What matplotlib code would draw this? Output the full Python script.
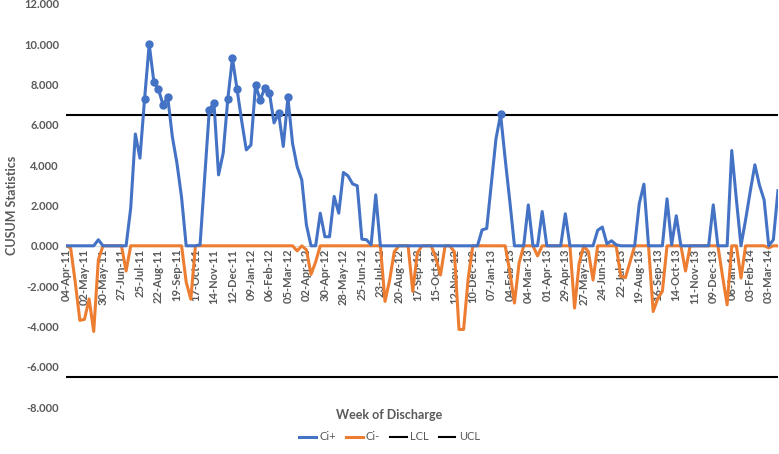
import numpy as np
import matplotlib.pyplot as plt

# weekly CUSUM values, week 0 = 04-Apr-11
ci_plus = [0, 0, 0, 0, 0, 0, 0, 0.3, 0, 0,
           0, 0, 0, 0, 1.87, 5.55, 4.35, 7.29, 10.0, 8.15,
           7.77, 6.99, 7.39, 5.42, 4.1, 2.4, 0, 0, 0, 0.05,
           3.4, 6.74, 7.1, 3.52, 4.6, 7.29, 9.3, 7.77, 6.2, 4.76,
           5.0, 7.98, 7.24, 7.82, 7.6, 6.1, 6.58, 4.93, 7.36, 5.09,
           3.93, 3.27, 1.04, 0, 0, 1.62, 0.45, 0.45, 2.45, 1.62,
           3.64, 3.47, 3.07, 2.98, 0.33, 0.3, 0.05, 2.53, 0, 0,
           0, 0, 0, 0, 0, 0, 0, 0, 0, 0,
           0, 0, 0, 0, 0, 0, 0, 0, 0, 0,
           0.79, 0.86, 3.1, 5.3, 6.52, 4.3, 2.2, 0, 0, 0,
           2.03, 0, 0, 1.7, 0, 0, 0, 0, 1.59, 0,
           0, 0, 0, 0, 0, 0.77, 0.93, 0.1, 0.25, 0.05,
           0, 0, 0, 0, 2.1, 3.06, 0, 0, 0, 0,
           2.33, 0.05, 1.49, 0, 0, 0, 0, 0, 0, 0,
           2.03, 0, 0, 0, 4.73, 2.3, 0, 1.3, 2.7, 4.02,
           3.0, 2.28, 0, 0.3, 2.74]
ci_minus = [0, -0.1, -1.8, -3.7, -3.65, -2.64, -4.25, -0.7, 0, 0,
            0, 0, 0, -1.25, 0, 0, 0, 0, 0, 0,
            0, 0, 0, 0, 0, 0, -1.8, -2.65, 0, 0,
            0, 0, 0, 0, 0, 0, 0, 0, 0, 0,
            0, 0, 0, 0, 0, 0, 0, 0, 0, 0,
            -0.25, 0, -0.2, -1.42, -0.8, 0, 0, 0, 0, 0,
            0, 0, 0, 0, 0, 0, 0, 0, 0, -2.76,
            -1.7, -0.3, 0, 0, 0, -2.26, -0.36, 0, 0, 0,
            -0.6, -1.45, 0, 0, -0.3, -4.15, -4.15, -1.6, 0, 0,
            0, 0, 0, 0, 0, 0, -1.3, -2.84, -0.86, 0,
            0, 0, -0.5, 0, 0, 0, 0, 0, 0, 0,
            -3.09, -0.86, 0, -0.3, -1.7, 0, 0, 0, 0, 0,
            -1.52, -1.58, -0.8, 0, 0, 0, 0, -3.26, -2.62, -2.25,
            0, 0, 0, 0, -1.25, 0, 0, 0, 0, 0,
            0, 0, -1.5, -2.93, 0, 0, -1.6, 0, 0, 0,
            0, 0, -0.1, 0, 0]
ucl = 6.5
lcl = -6.5

week_labels = ["04-Apr-11", "02-May-11", "30-May-11", "27-Jun-11", "25-Jul-11", "22-Aug-11",
               "19-Sep-11", "17-Oct-11", "14-Nov-11", "12-Dec-11", "09-Jan-12", "06-Feb-12",
               "05-Mar-12", "02-Apr-12", "30-Apr-12", "28-May-12", "25-Jun-12", "23-Jul-12",
               "20-Aug-12", "17-Sep-12", "15-Oct-12", "12-Nov-12", "10-Dec-12", "07-Jan-13",
               "04-Feb-13", "04-Mar-13", "01-Apr-13", "29-Apr-13", "27-May-13", "24-Jun-13",
               "22-Jul-13", "19-Aug-13", "16-Sep-13", "14-Oct-13", "11-Nov-13", "09-Dec-13",
               "06-Jan-14", "03-Feb-14", "03-Mar-14"]

plt.rcParams['font.family'] = ['Lato', 'DejaVu Sans']
grey = "#595959"

weeks = np.arange(len(ci_plus))
cp = np.array(ci_plus)
cm = np.array(ci_minus)

fig = plt.figure(figsize=(7.79, 4.54), dpi=100)
ax = fig.add_axes([0.0847, 0.1035, 0.914, 0.8877])

# spine position first: it resets the ticks
for s in ["top", "right", "left"]:
    ax.spines[s].set_visible(False)
ax.spines["bottom"].set_position(("data", 0))
ax.spines["bottom"].set_color("#d9d9d9")

ax.plot(weeks, cp, c="#4472C4", lw=2.2, label="Ci+", zorder=4)
out = cp > ucl
ax.plot(weeks[out], cp[out], "o", c="#4472C4", ms=5, zorder=5)
ax.plot(weeks, cm, c="#ED7D31", lw=2.2, label="Ci-", zorder=3)
ax.plot(weeks, np.full(len(weeks), lcl), c="k", lw=1.5, label="LCL")
ax.plot(weeks, np.full(len(weeks), ucl), c="k", lw=1.5, label="UCL")

ax.set_xlim(0, len(weeks) - 1)
ax.set_ylim(-8, 12)
ax.set_yticks(np.arange(-8, 13, 2))
ax.set_yticklabels([f"{v:.3f}" for v in np.arange(-8, 13, 2)],
                   fontsize=8, fontweight="bold", color=grey)
ax.set_xticks(np.arange(0, len(weeks), 4))
ax.set_xticklabels(week_labels, rotation=90, fontsize=8, fontweight="bold", color=grey)
ax.tick_params(length=0)
ax.tick_params(axis="x", pad=2)
ax.tick_params(axis="y", pad=5)

ax.set_ylabel("CUSUM Statistics", fontsize=9, fontweight="bold", color=grey)
ax.yaxis.set_label_coords(-0.068, 0.5)
fig.text(0.5, 1 - 415 / 454, "Week of Discharge", ha="center", va="center",
         fontsize=9, fontweight="bold", color=grey)

fig.legend(loc="center", bbox_to_anchor=(0.5, 1 - 437 / 454), ncol=4, frameon=False,
           fontsize=8, handlelength=1.5, handletextpad=0.3, columnspacing=0.9,
           labelcolor=grey)

fig.savefig("out.png", dpi=100)
